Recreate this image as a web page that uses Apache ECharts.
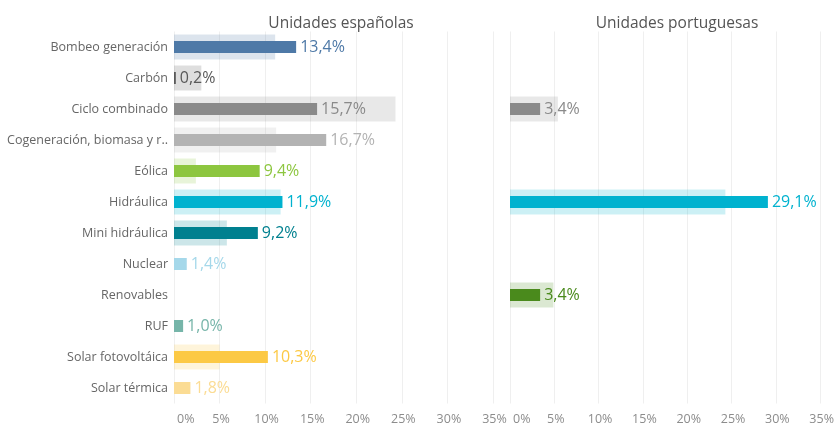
<!DOCTYPE html>
<html><head><meta charset="utf-8">
<script src="https://cdn.jsdelivr.net/npm/echarts@6/dist/echarts.min.js"></script>
<style>html,body{margin:0;padding:0;background:#fff}#c{width:837px;height:426px}</style>
</head><body><div id="c"></div>
<script>
const categories = ['Bombeo generación','Carbón','Ciclo combinado','Cogeneración, biomasa y r..','Eólica','Hidráulica','Mini hidráulica','Nuclear','Renovables','RUF','Solar fotovoltáica','Solar térmica'];
const colors = ['#4e79a7','#595959','#8a8a8a','#b3b3b3','#8dc63f','#00b2cf','#00808f','#a5d8ea','#4a8a1c','#76b5a9','#fcc945','#fbdc94'];
const esValues = [13.4,0.2,15.7,16.7,9.4,11.9,9.2,1.4,null,1.0,10.3,1.8];
const esRef = [11.1,3.0,24.3,11.2,2.4,11.7,5.8,null,null,null,5.0,null];
const ptValues = [null,null,3.4,null,null,29.1,null,null,3.4,null,null,null];
const ptRef = [null,null,5.4,null,null,24.3,null,null,4.9,null,null,null];

const font = '"Open Sans", sans-serif';
function mainData(vals){
  return vals.map((v,i)=> v==null ? null : {value:v, itemStyle:{color:colors[i]}, label:{color:colors[i]}});
}
function refData(vals){
  return vals.map((v,i)=> v==null ? null : {value:v, itemStyle:{color:colors[i], opacity:0.2}});
}
const fmt = p => p.value.toFixed(1).replace('.',',') + '%';
function xAx(idx){
  return {gridIndex:idx, type:'value', min:0, max:35, interval:5,
    axisLine:{show:false}, axisTick:{show:false},
    splitLine:{show:true, lineStyle:{color:'#efefef', width:1}},
    axisLabel:{formatter:v=>v+'%', color:'#8c8c8c', fontSize:12.5, fontFamily:font, margin:9, alignMinLabel:'left', padding:[0,0,0,3]}};
}
function yAx(idx, show){
  return {gridIndex:idx, type:'category', data:categories, inverse:true,
    axisLine:{show:false}, axisTick:{show:false}, splitLine:{show:false},
    axisLabel:{show:show, color:'#666', fontSize:12.5, fontFamily:font, margin:6}};
}
function series(idx, main, ref){
  return [
    {type:'bar', xAxisIndex:idx, yAxisIndex:idx*2+1, data:refData(ref), barWidth:25, silent:true, z:1},
    {type:'bar', xAxisIndex:idx, yAxisIndex:idx*2, data:mainData(main), barWidth:12, z:2,
      label:{show:true, position:'right', distance:4, formatter:fmt, fontSize:16, fontFamily:font}}
  ];
}
const chart = echarts.init(document.getElementById('c'), null, {renderer:'canvas'});
chart.setOption({
  animation:false,
  title:[
    {text:'Unidades españolas', left:336, top:11, textAlign:'center', textStyle:{fontSize:15.5, fontWeight:'normal', color:'#555', fontFamily:font}},
    {text:'Unidades portuguesas', left:672, top:11, textAlign:'center', textStyle:{fontSize:15.5, fontWeight:'normal', color:'#555', fontFamily:font}}
  ],
  grid:[
    {left:174, top:31.5, width:319, height:372},
    {left:510, top:31.5, width:315, height:372}
  ],
  xAxis:[xAx(0), xAx(1)],
  yAxis:[yAx(0,true), yAx(0,false), yAx(1,false), yAx(1,false)],
  series:[...series(0, esValues, esRef), ...series(1, ptValues, ptRef)]
});
</script></body></html>
